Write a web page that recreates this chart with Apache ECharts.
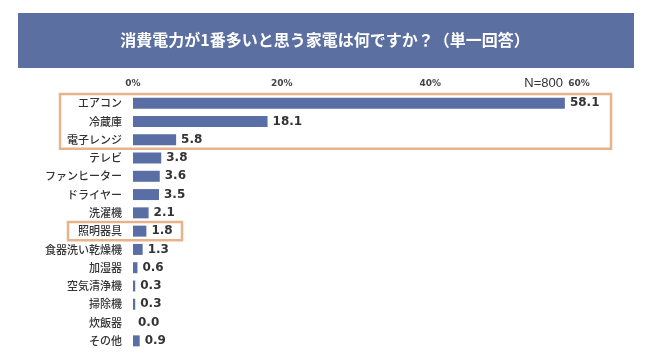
<!DOCTYPE html>
<html><head><meta charset="utf-8">
<script src="https://cdn.jsdelivr.net/npm/echarts@6/dist/echarts.min.js"></script>
<style>html,body{margin:0;padding:0;background:#fff}#c{width:650px;height:358px}</style>
</head><body><div id="c"></div>
<script>
const titleText = '消費電力が1番多いと思う家電は何ですか？（単一回答）';
const categories = ['エアコン','冷蔵庫','電子レンジ','テレビ','ファンヒーター','ドライヤー','洗濯機','照明器具','食器洗い乾燥機','加湿器','空気清浄機','掃除機','炊飯器','その他'];
const values = [58.1,18.1,5.8,3.8,3.6,3.5,2.1,1.8,1.3,0.6,0.3,0.3,0.0,0.9];
const xTicks = [0,20,40,60];
const sampleNote = 'N=800';
const highlightGroups = [[0,2],[7,7]];

const chart = echarts.init(document.getElementById('c'));
const jp = '"Noto Sans CJK JP", sans-serif';
chart.setOption({
  animation:false,
  grid:{left:133,right:71,top:94,bottom:8},
  xAxis:{type:'value',position:'top',min:xTicks[0],max:xTicks[xTicks.length-1],interval:20,
    axisLine:{show:false},axisTick:{show:false},splitLine:{show:false},
    axisLabel:{formatter:'{value}%',fontSize:9,fontWeight:'bold',color:'#444',fontFamily:'"DejaVu Sans",sans-serif',margin:6}},
  yAxis:{type:'category',inverse:true,data:categories,
    axisLine:{show:false},axisTick:{show:false},
    axisLabel:{fontSize:11,color:'#333',fontFamily:jp,fontWeight:500,margin:11}},
  series:[{type:'bar',data:values,barWidth:11,itemStyle:{color:'#5A6EA6'},
    label:{show:true,position:'right',distance:5,formatter:p=>p.value.toFixed(1),
      fontSize:12,fontWeight:'bold',color:'#333',fontFamily:'"DejaVu Sans",sans-serif'}}]
});

function rowY(i){return chart.convertToPixel({yAxisIndex:0},categories[i]);}
const band = rowY(1)-rowY(0);
const boxes = highlightGroups.map((g,k)=>{
  const y0 = rowY(g[0])-band/2, y1 = rowY(g[1])+band/2;
  const x0 = k===0?60:68, x1 = k===0?611:182;
  return {type:'rect',shape:{x:x0,y:y0,width:x1-x0,height:y1-y0},
    style:{fill:'none',stroke:'#E8B38A',lineWidth:2.5},z:10};
});
chart.setOption({graphic:[
  {type:'rect',shape:{x:18,y:13,width:616,height:55},style:{fill:'#5B6FA0'},z:1},
  {type:'text',x:325,y:40,style:{text:titleText,fill:'#fff',fontSize:16,fontWeight:'bold',fontFamily:jp,align:'center',verticalAlign:'middle'},z:2},
  {type:'text',x:563,y:83,style:{text:sampleNote,fill:'#333',fontSize:13,fontFamily:'"Liberation Sans",Arial,sans-serif',align:'right',verticalAlign:'middle'},z:2},
  ...boxes
]});
</script></body></html>
